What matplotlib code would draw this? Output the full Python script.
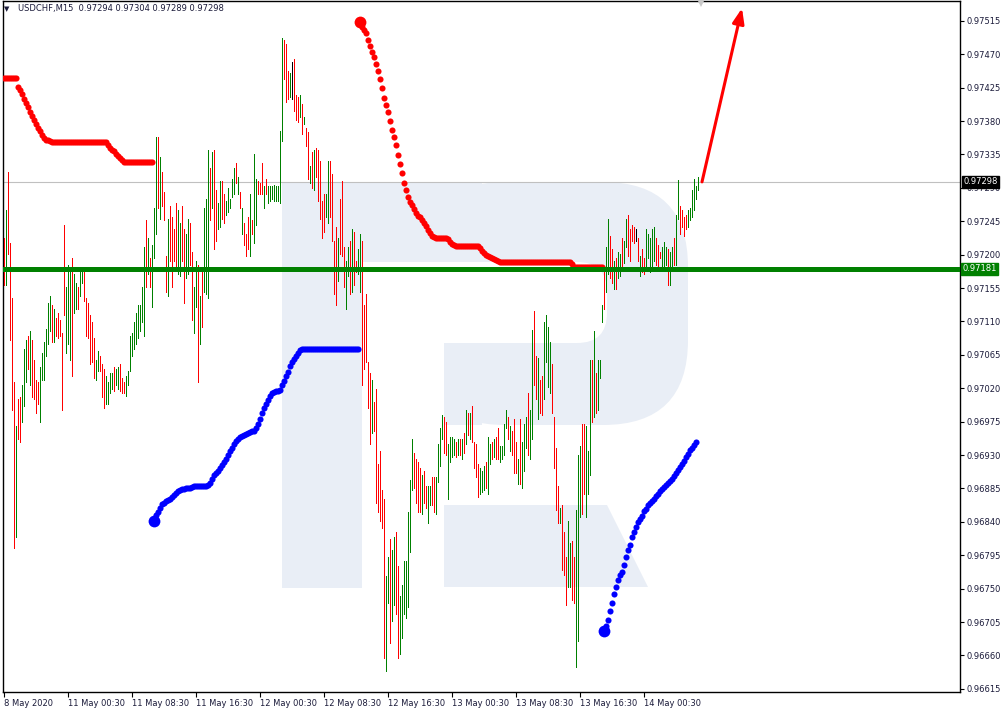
import numpy as np
import matplotlib
matplotlib.use("Agg")
import matplotlib.pyplot as plt
from matplotlib.patches import Rectangle, FancyBboxPatch, Polygon
from matplotlib.transforms import blended_transform_factory

# prices kept in points (1 point = 0.00001)
PT = 1e-5

# M15 bars, high / low
highs = [
    97222, 97260, 97311, 97216, 97141, 97028, 96969, 97005, 97008, 97025,
    97073, 97085, 97091, 97097, 97085, 97058, 97031, 97028, 97049, 97067,
    97082, 97100, 97135, 97144, 97132, 97127, 97115, 97121, 97112, 97094,
    97240, 97156, 97186, 97183, 97195, 97174, 97162, 97156, 97180, 97180,
    97180, 97141, 97135, 97118, 97109, 97088, 97058, 97070, 97064, 97052,
    97046, 97037, 97028, 97040, 97040, 97049, 97046, 97049, 97052, 97034,
    97028, 97037, 97043, 97091, 97094, 97109, 97121, 97132, 97132,
    97156, 97210, 97246, 97222, 97195, 97213, 97263, 97359, 97359, 97332,
    97311, 97284, 97198, 97248, 97266, 97251, 97234, 97269, 97260, 97243,
    97266, 97234, 97228, 97248, 97243, 97204, 97156, 97192, 97186, 97144,
    97180, 97263, 97275, 97341, 97317, 97338, 97341, 97287, 97269, 97299,
    97299, 97281, 97272, 97290, 97275, 97302, 97317, 97323, 97305, 97284,
    97263, 97243, 97228, 97251, 97281, 97246, 97335, 97302, 97299, 97296,
    97323, 97293, 97302, 97293, 97293, 97293, 97294, 97293, 97293, 97366,
    97492, 97489, 97484, 97448, 97445, 97460, 97463, 97415, 97412, 97415,
    97403, 97385, 97370, 97365, 97320, 97338, 97341, 97344, 97341, 97326,
    97272, 97281, 97281, 97326, 97326, 97308, 97219, 97237, 97222, 97275,
    97299, 97210, 97192, 97210, 97219, 97234, 97231, 97192, 97207, 97228,
    97219, 97132, 97147, 97055, 97040, 97031, 97002, 97019, 96918, 96936,
    96883, 96871, 96767, 96793, 96817, 96802, 96820, 96826, 96781, 96740,
    96755, 96787, 96787, 96853, 96897, 96951, 96933, 96924, 96921, 96912,
    96903, 96909, 96888, 96888, 96888, 96900, 96900, 96900, 96945, 96966,
    96984, 96981, 96975, 96945, 96954, 96954, 96951, 96948, 96951, 96951,
    96951, 96960, 96990, 96987, 96987, 96996, 96948, 96945, 96918, 96912,
    96909, 96915, 96921, 96954, 96945, 96948, 96951, 96954, 96966, 96942,
    96942, 96972, 96990, 96981, 96969, 96963, 96978, 96948, 96924, 96978,
    96948, 96972, 96981, 97013, 96990, 97098, 97124, 97064, 97061, 97031,
    97037, 97109, 97118, 97103, 97082, 97052, 96981, 96939, 96888, 96859,
    96862, 96826, 96793, 96841, 96811, 96814, 96793, 96856, 96930, 96942,
    96972, 96972, 96969, 96936, 97058, 97058, 97097, 97040, 97058, 97058,
    97132, 97180, 97210, 97248, 97225, 97207, 97192, 97195, 97204, 97201,
    97222, 97219, 97248, 97254, 97234, 97240, 97237, 97234, 97222, 97198,
    97207, 97195, 97234, 97228, 97222, 97234, 97237, 97222, 97213, 97204,
    97210, 97217, 97210, 97207, 97204, 97210, 97222, 97254, 97300, 97266,
    97260, 97251, 97254, 97260, 97263, 97287, 97302, 97293, 97305,
]
lows = [
    97159, 97159, 97201, 97085, 96990, 96805, 96820, 96951, 96948, 96975,
    96996, 97028, 97046, 97025, 97008, 97005, 96987, 96999, 96975, 97031,
    97031, 97064, 97079, 97097, 97082, 97082, 97091, 97088, 97091, 96990,
    97118, 97067, 97079, 97058, 97037, 97121, 97127, 97127, 97144, 97162,
    97138, 97091, 97088, 97052, 97055, 97034, 97031, 97043, 97043, 97008,
    96993, 96999, 96999, 97013, 97019, 97016, 97025, 97019, 97016, 97013,
    97013, 97010, 97025, 97043, 97064, 97073, 97079, 97088, 97097,
    97109, 97091, 97156, 97174, 97156, 97130, 97195, 97228, 97263, 97248,
    97266, 97246, 97150, 97144, 97192, 97156, 97192, 97180, 97174, 97171,
    97192, 97135, 97168, 97174, 97186, 97112, 97094, 97130, 97028, 97079,
    97103, 97150, 97147, 97141, 97246, 97263, 97207, 97219, 97234, 97237,
    97248, 97243, 97254, 97257, 97263, 97278, 97281, 97296, 97281, 97263,
    97228, 97213, 97198, 97207, 97198, 97228, 97216, 97240, 97281, 97281,
    97281, 97263, 97281, 97269, 97272, 97275, 97272, 97272, 97272, 97269,
    97353, 97436, 97406, 97409, 97412, 97409, 97394, 97382, 97379, 97385,
    97362, 97376, 97347, 97302, 97296, 97290, 97287, 97305, 97272, 97248,
    97222, 97231, 97251, 97243, 97251, 97219, 97147, 97132, 97165, 97201,
    97198, 97156, 97127, 97171, 97147, 97150, 97159, 97177, 97174, 97150,
    97025, 97046, 97055, 96993, 96945, 96960, 96963, 96865, 96853, 96841,
    96832, 96656, 96639, 96731, 96677, 96707, 96728, 96716, 96656, 96662,
    96683, 96716, 96710, 96725, 96799, 96883, 96886, 96865, 96853, 96853,
    96850, 96865, 96859, 96838, 96862, 96862, 96853, 96850, 96894, 96915,
    96951, 96933, 96930, 96871, 96921, 96927, 96930, 96927, 96930, 96930,
    96924, 96933, 96945, 96957, 96951, 96948, 96912, 96900, 96874, 96877,
    96880, 96883, 96886, 96877, 96918, 96924, 96927, 96924, 96924, 96921,
    96924, 96930, 96966, 96951, 96936, 96930, 96906, 96906, 96891, 96891,
    96886, 96909, 96939, 96930, 96924, 96951, 97025, 97005, 96978, 96987,
    96984, 97005, 97055, 97022, 97013, 96987, 96912, 96856, 96838, 96838,
    96775, 96769, 96728, 96752, 96752, 96734, 96731, 96645, 96680, 96847,
    96850, 96877, 96847, 96877, 96903, 96975, 96981, 96987, 96990, 97034,
    97109, 97127, 97150, 97174, 97168, 97162, 97153, 97153, 97168, 97171,
    97180, 97189, 97210, 97198, 97192, 97219, 97216, 97219, 97192, 97171,
    97177, 97174, 97183, 97195, 97177, 97180, 97192, 97186, 97180, 97195,
    97183, 97180, 97186, 97159, 97159, 97183, 97186, 97186, 97248, 97228,
    97237, 97225, 97234, 97237, 97246, 97251, 97260, 97275, 97287,
]
# G = up bar, R = down bar, K = doji
bar_dirs = (
    "RGRRRRGRRG" "GGRGRRRRGG" "GGGGRGRRRR" "RGGGRGGRGG" "RRRRRRGGRR" "RGGGGRGGRR" "RGGGGGGGG"
    "GGRGRGGGRG" "RRRGRRRRGG" "RRGGRRGGRG" "RGGGRGRRGG" "RRGGGGGRGR" "GRRRGRGGRR" "RGRGGGGGGG"
    "GRRRGKRRRG" "RGRRGRGRRR" "RRGGRRRRGR" "RRGGRGRRGG" "RRRRRGRRRR" "RRGGRGGRRG" "GGGGGGRRRR"
    "GRRGGRRGGG" "GRRGGGGRGR" "GRGRGRRRRG" "GGRGGRGRRG" "GGGRGRRRGR" "GGGRGGRRGR" "RGGGGRRRRG"
    "RRRGGRRGGG" "RRGGGRGRGG" "GRGGRRGRGG" "RGGRRRRKRG" "RRGGGGGRRR" "GGGRGGRGGR" "RRRGGGGGG"
)

# parabolic-style stops (first bar index, values)
red1_start = 0
red1 = ([97438] * 7 +
        [97426, 97422, 97416, 97410, 97404, 97399, 97392, 97387, 97381, 97376,
         97371, 97366, 97361, 97357, 97354, 97354, 97353] +
        [97352] * 28 +
        [97348, 97344, 97341, 97339, 97336, 97333, 97330, 97328, 97325] +
        [97325] * 14)
blue1_start = 75
blue1 = ([96841, 96849, 96853, 96859, 96864, 96866, 96868, 96870, 96871, 96874,
          96876, 96879, 96882, 96883, 96884, 96884, 96885, 96885, 96886, 96887, 96888] +
         [96888] * 6 +
         [96890, 96892, 96898, 96903, 96906, 96909, 96912, 96916, 96920, 96925,
          96930, 96935, 96939, 96945, 96949, 96952, 96954, 96955, 96957, 96958,
          96960, 96961, 96962, 96963, 96966, 96972, 96979, 96987, 96993, 96999,
          97004, 97009, 97013, 97015, 97016, 97016, 97018, 97024, 97030, 97036,
          97042, 97050, 97055, 97059, 97063, 97067, 97071, 97073] +
         [97073] * 28)
red2_start = 178
red2 = ([97513, 97507, 97503, 97499, 97489, 97481, 97473, 97466, 97457, 97447,
         97437, 97424, 97411, 97402, 97392, 97380, 97368, 97358, 97348, 97334,
         97322, 97310, 97296, 97287, 97278, 97271, 97267, 97261, 97256, 97252,
         97251, 97247, 97243, 97239, 97233, 97229, 97225, 97224] +
        [97222] * 6 +
        [97221, 97217, 97214, 97213] +
        [97212] * 12 +
        [97209, 97205, 97202, 97199, 97198, 97197, 97196, 97194, 97193, 97191, 97190] +
        [97190] * 35 +
        [97187] +
        [97183] * 15)
blue2_start = 300
blue2 = [96693, 96700, 96708, 96720, 96731, 96743, 96752, 96762, 96768, 96772,
         96782, 96793, 96802, 96809, 96820, 96826, 96833, 96840, 96844, 96848,
         96855, 96857, 96863, 96865, 96868, 96871, 96875, 96877, 96881, 96884,
         96887, 96890, 96892, 96895, 96898, 96902, 96906, 96910, 96914, 96918,
         96922, 96927, 96931, 96937, 96939, 96943, 96947]

level_price = 97181
last_price = 97298
title = "USDCHF,M15  0.97294 0.97304 0.97289 0.97298"
arrow_from = (349, 97298)
arrow_to = (369, 97532)

date_ticks = [0, 32, 64, 96, 128, 160, 192, 224, 256, 288, 320]
date_labels = ["8 May 2020", "11 May 00:30", "11 May 08:30", "11 May 16:30",
               "12 May 00:30", "12 May 08:30", "12 May 16:30", "13 May 00:30",
               "13 May 08:30", "13 May 16:30", "14 May 00:30"]
price_ticks = list(range(96615, 97516, 45))

TXT = "#1b1b3a"
RED = "#ff0000"
GREEN = "#008000"
BLUE = "#0000ff"
plt.rcParams["font.family"] = ["DejaVu Sans"]

fig = plt.figure(figsize=(10.05, 7.14), dpi=100)
fig.patch.set_facecolor("white")

# watermark logo in pixel space, behind the chart
bg = fig.add_axes([0, 0, 1, 1], zorder=0)
bg.set_xlim(0, 1005)
bg.set_ylim(714, 0)
bg.axis("off")
wm = "#e9eef6"
bg.add_patch(FancyBboxPatch((420, 182), 268, 243, boxstyle="round,pad=0,rounding_size=85", fc=wm, ec="none"))
bg.add_patch(Rectangle((282, 182), 200, 243, fc=wm, ec="none"))
bg.add_patch(FancyBboxPatch((420, 262), 187, 81, boxstyle="round,pad=0,rounding_size=30", fc="white", ec="none"))
bg.add_patch(Rectangle((362, 262), 100, 81, fc="white", ec="none"))
bg.add_patch(Rectangle((362, 343), 82, 82, fc="white", ec="none"))
bg.add_patch(Rectangle((282, 182), 80, 406, fc=wm, ec="none"))
bg.add_patch(Polygon([(444, 505), (607, 505), (648, 587), (444, 587)], closed=True, fc=wm, ec="none"))

ax = fig.add_axes([3 / 1005, 22 / 714, 957 / 1005, 691 / 714], zorder=1)
ax.set_facecolor("none")

x = np.arange(len(highs))
hi = np.array(highs) * PT
lo = np.array(lows) * PT
cmap = {"G": GREEN, "R": RED, "K": "black"}
cols = [cmap[c] for c in bar_dirs]

ax.axhline(last_price * PT, color="#c0c0c0", lw=0.8, zorder=1)
# 1-pixel high-low bars
ax.vlines(x, lo, hi, colors=cols, linewidth=0.55, antialiased=False, zorder=3)

for start, vals, color in [(red1_start, red1, RED), (blue1_start, blue1, BLUE),
                           (red2_start, red2, RED), (blue2_start, blue2, BLUE)]:
    xs = np.arange(start, start + len(vals))
    ys = np.array(vals) * PT
    ax.plot(xs, ys, "o", color=color, ms=4.4, mew=0, zorder=4)
    if start > 0:
        ax.plot(xs[0], ys[0], "o", color=color, ms=8.5, mew=0, zorder=4)

ax.axhline(level_price * PT, color=GREEN, lw=3.6, zorder=5)

ax.annotate("", xy=(arrow_to[0], arrow_to[1] * PT), xytext=(arrow_from[0], arrow_from[1] * PT),
            arrowprops=dict(arrowstyle="-|>,head_length=0.9,head_width=0.35", color=RED,
                            lw=2.2, shrinkA=0, shrinkB=0), zorder=6)

ax.set_xlim(-0.5, 478)
ax.set_ylim(0.966107, 0.975417)

ax.plot([348.5], [0.97539], marker="v", color="#c8c8c8", ms=6, mew=0, clip_on=False, zorder=6)

for s in ax.spines.values():
    s.set_color("black")
    s.set_linewidth(1.0)

ax.yaxis.tick_right()
ax.set_yticks([p * PT for p in price_ticks])
ax.set_yticklabels([f"{p * PT:.5f}" for p in price_ticks])
ax.tick_params(axis="y", direction="out", length=3, width=0.8, pad=1.5,
               labelsize=6, labelcolor=TXT, color="black")
ax.set_xticks(date_ticks)
ax.set_xticklabels(date_labels)
ax.tick_params(axis="x", direction="out", length=3.5, width=0.8, pad=1.5,
               labelsize=6, labelcolor=TXT, color="black")
for lbl in ax.get_xticklabels():
    lbl.set_horizontalalignment("left")

tr = blended_transform_factory(ax.transAxes, ax.transData)
ax.text(1.0035, last_price * PT, f"{last_price * PT:.5f}", transform=tr, fontsize=6,
        color="white", va="center", ha="left", zorder=10, clip_on=False,
        bbox=dict(boxstyle="square,pad=0.15", fc="black", ec="black"))
ax.text(1.0025, level_price * PT, f"{level_price * PT:.5f}", transform=tr, fontsize=6,
        color="white", va="center", ha="left", zorder=10, clip_on=False,
        bbox=dict(boxstyle="square,pad=0.2", fc=GREEN, ec=GREEN))

fig.text(4 / 1005, 1 - 9 / 714, "\u25bc", fontsize=5, color=TXT, va="center", ha="left")
fig.text(18 / 1005, 1 - 9 / 714, title, fontsize=6, color=TXT, va="center", ha="left")

fig.savefig("out.png", dpi=100)
